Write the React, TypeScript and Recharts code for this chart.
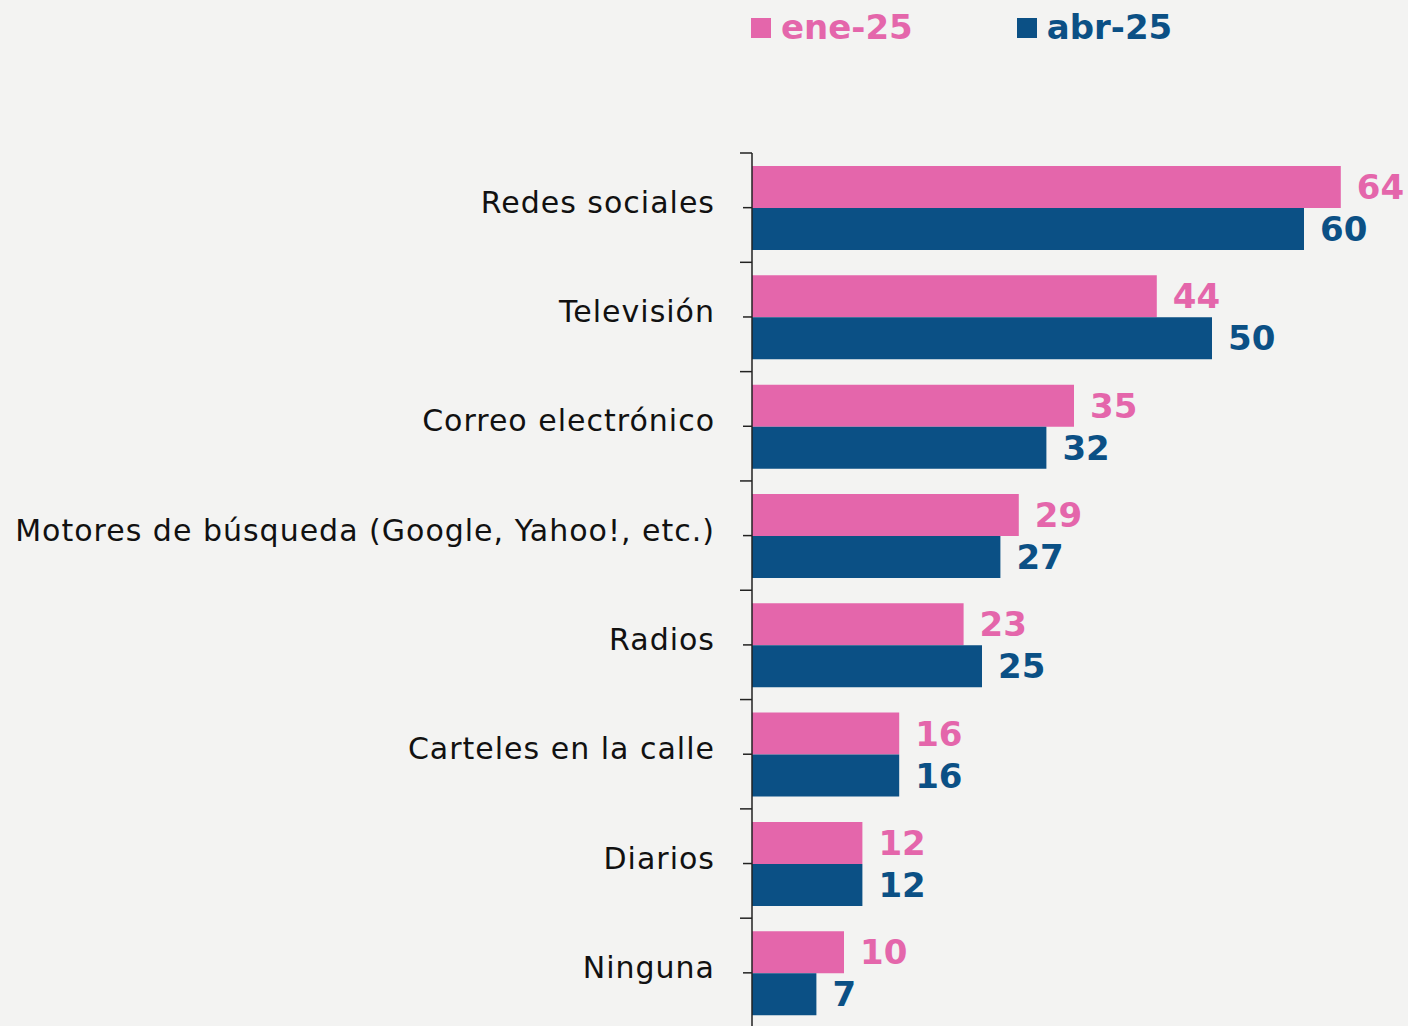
import React from 'react';
import { BarChart, Bar, XAxis, YAxis, LabelList, Legend } from 'recharts';

const categories = [
  'Redes sociales',
  'Televisión',
  'Correo electrónico',
  'Motores de búsqueda (Google, Yahoo!, etc.)',
  'Radios',
  'Carteles en la calle',
  'Diarios',
  'Ninguna',
];
const ene25 = [64, 44, 35, 29, 23, 16, 12, 10];
const abr25 = [60, 50, 32, 27, 25, 16, 12, 7];
const seriesNames = ['ene-25', 'abr-25'];

const PINK = '#e466ab';
const BLUE = '#0b5085';
const FONT = '"DejaVu Sans", sans-serif';

const data = categories.map((name, i) => ({ name, ene: ene25[i], abr: abr25[i] }));

const W = 1408;
const H = 1040;
const AXIS_X = 752;
const TOP = 153;
const BOTTOM = 1027.5;
const BAND = (BOTTOM - TOP) / categories.length;

const CategoryTick = (props: any) => {
  const { y, payload } = props;
  return (
    <g>
      <line x1={AXIS_X - 12} x2={AXIS_X} y1={y - BAND / 2} y2={y - BAND / 2} stroke="#222" strokeWidth={1.5} />
      <line x1={AXIS_X - 9} x2={AXIS_X} y1={y} y2={y} stroke="#222" strokeWidth={1.5} />
      <text x={715} y={y} dy={5} textAnchor="end" fontSize={30} letterSpacing={1} fill="#111" fontFamily={FONT}>
        {payload.value}
      </text>
    </g>
  );
};

const LegendContent = () => (
  <div style={{ position: 'absolute', left: 751, top: 0, display: 'flex', fontFamily: FONT, fontWeight: 700, fontSize: 34 }}>
    {seriesNames.map((n, i) => (
      <div key={n} style={{ display: 'flex', alignItems: 'center', marginRight: i === 0 ? 104 : 0, color: i === 0 ? PINK : BLUE, lineHeight: '54px' }}>
        <span style={{ display: 'inline-block', width: 20, height: 20, background: i === 0 ? PINK : BLUE, marginRight: 10, marginTop: 2 }} />
        {n}
      </div>
    ))}
  </div>
);

export default function App() {
  return (
    <div style={{ position: 'absolute', left: 0, top: 0, width: W, height: 1026, overflow: 'hidden', background: '#f3f3f2' }}>
      <BarChart
        width={W}
        height={H}
        data={data}
        layout="vertical"
        margin={{ top: TOP, right: W - AXIS_X - 70 * 9.2, left: 0, bottom: H - BOTTOM }}
        barGap={0}
        barSize={42}
      >
        <Legend verticalAlign="top" content={<LegendContent />} wrapperStyle={{ top: 0, left: 0 }} />
        <XAxis type="number" domain={[0, 70]} hide />
        <YAxis
          type="category"
          dataKey="name"
          width={AXIS_X}
          tickLine={false}
          axisLine={{ stroke: '#222', strokeWidth: 1.5 }}
          tick={<CategoryTick />}
          interval={0}
        />
        <Bar dataKey="ene" name={seriesNames[0]} fill={PINK} isAnimationActive={false}>
          <LabelList dataKey="ene" position="right" offset={16} fill={PINK} fontSize={34} fontWeight={700} fontFamily={FONT} />
        </Bar>
        <Bar dataKey="abr" name={seriesNames[1]} fill={BLUE} isAnimationActive={false}>
          <LabelList dataKey="abr" position="right" offset={16} fill={BLUE} fontSize={34} fontWeight={700} fontFamily={FONT} />
        </Bar>
      </BarChart>
    </div>
  );
}
